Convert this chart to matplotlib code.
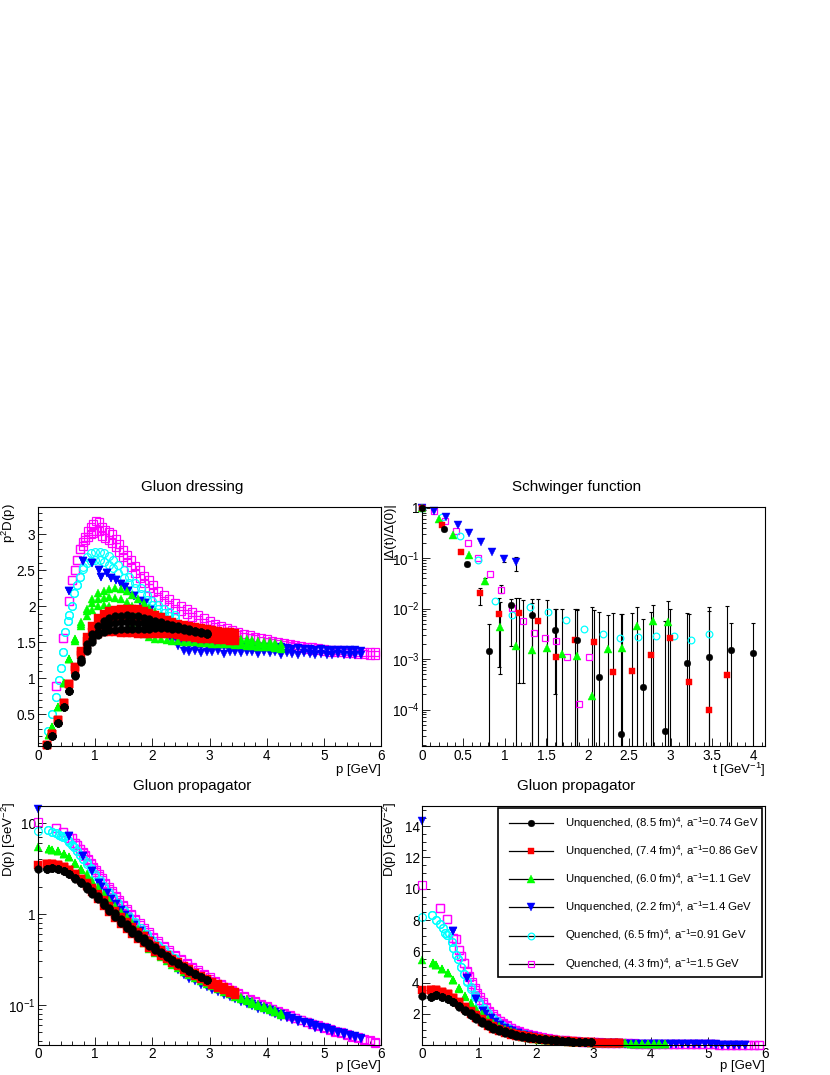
import numpy as np
import matplotlib
matplotlib.use('Agg')
import matplotlib.pyplot as plt
from matplotlib.ticker import MultipleLocator, FixedLocator, FixedFormatter, FuncFormatter, LogLocator, NullFormatter
from matplotlib.patches import Rectangle

plt.rcParams['font.family'] = ['Liberation Sans', 'DejaVu Sans']
plt.rcParams['mathtext.fontset'] = 'custom'
plt.rcParams['mathtext.rm'] = 'Liberation Sans'
plt.rcParams['mathtext.it'] = 'Liberation Sans:italic'
plt.rcParams['mathtext.bf'] = 'Liberation Sans:bold'

# ---- gluon dressing p^2 D(p): upper / middle / lower edge of each lattice band ----
blk_p = [0.15, 0.25, 0.35, 0.45, 0.55, 0.65, 0.75, 0.85, 0.95, 1.05, 1.15, 1.25, 1.35, 1.45, 1.55,
         1.65, 1.75, 1.85, 1.95, 2.05, 2.15, 2.25, 2.35, 2.45, 2.55, 2.65, 2.75, 2.85, 2.95]
blk_hi = [0.07, 0.20, 0.38, 0.60, 0.83, 1.05, 1.27, 1.47, 1.62, 1.73, 1.80, 1.84, 1.86, 1.87, 1.88,
          1.87, 1.86, 1.84, 1.82, 1.80, 1.78, 1.76, 1.74, 1.72, 1.70, 1.68, 1.66, 1.65, 1.63]
blk_mid = [0.07, 0.20, 0.38, 0.60, 0.83, 1.05, 1.24, 1.42, 1.55, 1.65, 1.72, 1.76, 1.77, 1.78, 1.78,
           1.78, 1.77, 1.77, 1.76, 1.75, 1.74, 1.73, 1.72, 1.71, 1.69, 1.67, 1.66, 1.64, 1.62]
blk_lo = [0.07, 0.20, 0.38, 0.60, 0.83, 1.03, 1.22, 1.38, 1.50, 1.60, 1.65, 1.67, 1.67, 1.68, 1.68,
          1.68, 1.68, 1.69, 1.69, 1.70, 1.70, 1.70, 1.69, 1.68, 1.67, 1.66, 1.65, 1.63, 1.61]

red_p = [0.15, 0.25, 0.35, 0.45, 0.55, 0.65, 0.75, 0.85, 0.95, 1.05, 1.15, 1.25, 1.35, 1.45, 1.55,
         1.65, 1.75, 1.85, 1.95, 2.05, 2.15, 2.25, 2.35, 2.45, 2.55, 2.65, 2.75, 2.85, 2.95, 3.05,
         3.15, 3.25, 3.35, 3.45]
red_hi = [0.08, 0.22, 0.42, 0.66, 0.92, 1.16, 1.38, 1.58, 1.73, 1.84, 1.90, 1.93, 1.95, 1.96, 1.96,
          1.96, 1.96, 1.94, 1.91, 1.88, 1.85, 1.81, 1.78, 1.76, 1.74, 1.72, 1.71, 1.70, 1.68, 1.67,
          1.66, 1.65, 1.64, 1.63]
red_mid = [0.08, 0.22, 0.42, 0.66, 0.92, 1.16, 1.36, 1.52, 1.64, 1.73, 1.78, 1.80, 1.81, 1.82, 1.82,
           1.82, 1.81, 1.80, 1.78, 1.76, 1.74, 1.72, 1.70, 1.68, 1.66, 1.65, 1.64, 1.62, 1.61, 1.60,
           1.59, 1.58, 1.57, 1.57]
red_lo = [0.08, 0.22, 0.42, 0.66, 0.92, 1.12, 1.32, 1.46, 1.56, 1.62, 1.64, 1.64, 1.64, 1.63, 1.63,
          1.63, 1.62, 1.62, 1.62, 1.62, 1.61, 1.61, 1.61, 1.60, 1.58, 1.57, 1.56, 1.55, 1.55, 1.54,
          1.53, 1.53, 1.52, 1.52]

grn_p = [0.20, 0.25, 0.35, 0.45, 0.55, 0.65, 0.75, 0.85, 0.95, 1.05, 1.15, 1.25, 1.35, 1.45, 1.55,
         1.65, 1.75, 1.85, 1.95, 2.05, 2.15, 2.25, 2.35, 2.45, 2.55, 2.65, 2.75, 2.85, 2.95, 3.05,
         3.15, 3.25, 3.35, 3.45, 3.55, 3.65, 3.75, 3.85, 3.95, 4.05, 4.15, 4.25]
grn_hi = [0.21, 0.32, 0.60, 0.93, 1.27, 1.55, 1.78, 1.97, 2.10, 2.18, 2.22, 2.24, 2.25, 2.24, 2.21,
          2.16, 2.10, 2.04, 1.98, 1.92, 1.86, 1.81, 1.76, 1.72, 1.68, 1.66, 1.64, 1.62, 1.61, 1.60,
          1.59, 1.58, 1.57, 1.56, 1.55, 1.54, 1.53, 1.52, 1.51, 1.50, 1.49, 1.48]
grn_mid = [0.21, 0.32, 0.60, 0.93, 1.27, 1.55, 1.76, 1.93, 2.04, 2.10, 2.12, 2.13, 2.12, 2.10, 2.06,
           2.00, 1.93, 1.86, 1.80, 1.74, 1.70, 1.66, 1.63, 1.61, 1.59, 1.58, 1.57, 1.56, 1.55, 1.54,
           1.53, 1.52, 1.51, 1.51, 1.50, 1.49, 1.48, 1.47, 1.47, 1.46, 1.45, 1.44]
grn_lo = [0.21, 0.32, 0.60, 0.93, 1.27, 1.52, 1.72, 1.86, 1.95, 2.00, 2.02, 2.00, 1.95, 1.90, 1.82,
          1.75, 1.68, 1.62, 1.58, 1.55, 1.54, 1.53, 1.52, 1.52, 1.51, 1.50, 1.50, 1.49, 1.49, 1.48,
          1.48, 1.47, 1.47, 1.46, 1.46, 1.45, 1.45, 1.44, 1.43, 1.43, 1.42, 1.41]

blu_p = [0.55, 0.78, 0.94, 1.07, 1.10, 1.20, 1.28, 1.36, 1.45, 1.52, 1.58, 1.68, 1.78, 1.88, 1.96,
         2.05, 2.15, 2.25, 2.35, 2.45, 2.55, 2.65, 2.75, 2.85, 2.95, 3.05, 3.15, 3.25, 3.35, 3.45,
         3.55, 3.65, 3.75, 3.85, 3.95, 4.05, 4.15, 4.25, 4.35, 4.45, 4.55, 4.65, 4.75, 4.85, 4.95,
         5.05, 5.15, 5.25, 5.35, 5.45, 5.55, 5.65]
blu_hi = [2.21, 2.63, 2.60, 2.50, 2.41, 2.47, 2.40, 2.36, 2.31, 2.27, 2.21, 2.14, 2.08, 2.04, 1.95,
          1.80, 1.68, 1.60, 1.54, 1.50, 1.46, 1.45, 1.45, 1.44, 1.45, 1.44, 1.43, 1.44, 1.44, 1.43,
          1.43, 1.44, 1.43, 1.42, 1.43, 1.42, 1.42, 1.43, 1.42, 1.41, 1.42, 1.41, 1.41, 1.40, 1.41,
          1.40, 1.40, 1.39, 1.40, 1.39, 1.39, 1.38]
blu_lo = [2.21, 2.63, 2.60, 2.50, 2.41, 2.47, 2.40, 2.36, 2.31, 2.27, 2.21, 2.14, 2.08, 2.04, 1.95,
          1.80, 1.68, 1.60, 1.52, 1.45, 1.38, 1.36, 1.38, 1.35, 1.37, 1.36, 1.38, 1.34, 1.37, 1.36,
          1.35, 1.37, 1.36, 1.34, 1.36, 1.35, 1.36, 1.33, 1.35, 1.34, 1.33, 1.35, 1.34, 1.32, 1.34,
          1.33, 1.32, 1.34, 1.32, 1.33, 1.32, 1.33]

cyn_p = [0.18, 0.25, 0.31, 0.36, 0.40, 0.44, 0.48, 0.52, 0.55, 0.59, 0.63, 0.68, 0.73, 0.79, 0.85,
         0.92, 1.00, 1.08, 1.16, 1.24, 1.32, 1.40, 1.50, 1.60, 1.70, 1.80, 1.90, 2.00, 2.10, 2.20,
         2.30, 2.40]
cyn_hi = [0.27, 0.50, 0.745, 0.97, 1.15, 1.36, 1.65, 1.79, 1.88, 2.00, 2.18, 2.30, 2.41, 2.55, 2.69,
          2.74, 2.76, 2.76, 2.74, 2.70, 2.65, 2.58, 2.50, 2.41, 2.33, 2.25, 2.16, 2.08, 2.02, 1.97,
          1.92, 1.88]
cyn_lo = [0.27, 0.50, 0.745, 0.97, 1.15, 1.36, 1.65, 1.79, 1.88, 2.00, 2.18, 2.30, 2.41, 2.52, 2.60,
          2.63, 2.64, 2.64, 2.62, 2.58, 2.53, 2.47, 2.40, 2.32, 2.25, 2.17, 2.09, 2.02, 1.96, 1.91,
          1.87, 1.84]

mag_p = [0.32, 0.44, 0.55, 0.59, 0.64, 0.68, 0.73, 0.78, 0.82, 0.87, 0.92, 0.97, 1.02, 1.07,
         1.12, 1.18, 1.24, 1.30, 1.36, 1.42, 1.48, 1.55, 1.62, 1.70, 1.78, 1.86, 1.94, 2.02, 2.10,
         2.20, 2.30, 2.40, 2.50, 2.60, 2.70, 2.80, 2.90, 3.00, 3.10, 3.20, 3.30, 3.40, 3.50, 3.60,
         3.70, 3.80, 3.90, 4.00, 4.10, 4.20, 4.30, 4.40, 4.50, 4.60, 4.70, 4.80, 4.90, 5.00, 5.10,
         5.20, 5.30, 5.40, 5.50, 5.60, 5.70, 5.80, 5.90]
mag_hi = [0.90, 1.56, 2.08, 2.37, 2.50, 2.64, 2.80, 2.90, 2.97, 3.05, 3.10, 3.14, 3.18, 3.17,
          3.10, 3.06, 3.03, 3.00, 2.93, 2.86, 2.78, 2.72, 2.64, 2.56, 2.50, 2.42, 2.36, 2.30, 2.22,
          2.16, 2.10, 2.05, 2.01, 1.96, 1.92, 1.88, 1.84, 1.80, 1.76, 1.73, 1.70, 1.67, 1.64, 1.62,
          1.60, 1.58, 1.56, 1.54, 1.52, 1.51, 1.49, 1.48, 1.46, 1.45, 1.44, 1.43, 1.42, 1.41, 1.40,
          1.39, 1.39, 1.38, 1.38, 1.37, 1.37, 1.36, 1.36]
mag_lo = [0.90, 1.56, 2.08, 2.37, 2.50, 2.64, 2.80, 2.84, 2.92, 2.97, 3.00, 3.02, 3.04, 3.04,
          2.98, 2.95, 2.92, 2.88, 2.82, 2.75, 2.68, 2.61, 2.54, 2.46, 2.39, 2.32, 2.26, 2.20, 2.13,
          2.07, 2.02, 1.97, 1.93, 1.89, 1.85, 1.81, 1.77, 1.74, 1.71, 1.68, 1.65, 1.62, 1.60, 1.58,
          1.56, 1.54, 1.52, 1.51, 1.49, 1.48, 1.46, 1.45, 1.44, 1.42, 1.41, 1.40, 1.39, 1.38, 1.37,
          1.36, 1.36, 1.35, 1.35, 1.34, 1.34, 1.33, 1.33]

# propagator at zero momentum D(0) [GeV^-2]
d0_vals = [3.17, 3.50, 5.42, 14.34, 8.20, 10.26]

# ---- Schwinger function |Delta(t)/Delta(0)|, with error bar ends (0 = bar down to axis) ----
sch_blk_t = [0.00, 0.27, 0.54, 0.81, 1.07, 1.33, 1.61, 1.87, 2.14, 2.40, 2.67, 2.93, 3.20, 3.46, 3.73, 3.99]
sch_blk_v = [1.0, 0.37, 0.077, 1.42e-3, 1.17e-2, 7.4e-3, 3.7e-3, 2.44e-3, 4.5e-4, 3.3e-5, 2.75e-4,
             3.7e-5, 8.5e-4, 1.1e-3, 1.5e-3, 1.3e-3]
sch_blk_up = [1.0, 0.37, 0.077, 5.0e-3, 1.54e-2, 1.32e-2, 9.8e-3, 9.5e-3, 8.5e-3, 7.8e-3, 6.2e-3,
              5.6e-3, 8.3e-3, 1.1e-2, 5.1e-3, 5.1e-3]
sch_blk_dn = [1.0, 0.37, 0.077, 0, 1.8e-3, 0, 2.0e-4, 0, 0, 0, 0, 0, 0, 0, 0, 0]

sch_red_t = [0.00, 0.24, 0.47, 0.70, 0.93, 1.17, 1.40, 1.62, 1.85, 2.07, 2.30, 2.53, 2.76, 2.99, 3.22,
             3.46, 3.68]
sch_red_v = [1.0, 0.45, 0.13, 2.0e-2, 7.7e-3, 8.1e-3, 5.6e-3, 1.12e-3, 2.4e-3, 2.15e-3, 5.6e-4, 5.8e-4,
             1.2e-3, 2.6e-3, 3.6e-4, 1.0e-4, 4.9e-4]
sch_red_up = [1.0, 0.45, 0.13, 2.6e-2, 1.6e-2, 1.6e-2, 1.55e-2, 9.8e-3, 9.8e-3, 9.5e-3, 8.1e-3, 8.3e-3,
              8.5e-3, 1.0e-2, 7.8e-3, 9.0e-3, 1.15e-2]
sch_red_dn = [1.0, 0.45, 0.13, 1.2e-2, 7.1e-4, 3.4e-4, 0, 0, 0, 0, 0, 0, 0, 0, 0, 0, 0]

sch_grn_t = [0.00, 0.20, 0.38, 0.57, 0.76, 0.94, 1.14, 1.33, 1.51, 1.69, 1.87, 2.05, 2.24, 2.42, 2.60,
             2.79, 2.97]
sch_grn_v = [1.0, 0.59, 0.29, 0.116, 3.6e-2, 4.3e-3, 1.8e-3, 1.5e-3, 1.65e-3, 1.27e-3, 1.17e-3, 1.85e-4,
             1.6e-3, 1.65e-3, 4.6e-3, 5.6e-3, 5.5e-3]
sch_grn_up = [1.0, 0.59, 0.29, 0.116, 4.1e-2, 1.35e-2, 1.6e-2, 1.55e-2, 1.45e-2, 9.8e-3, 9.8e-3, 1.1e-2,
              7.4e-3, 7.8e-3, 1.07e-2, 1.17e-2, 1.4e-2]
sch_grn_dn = [1.0, 0.59, 0.29, 0.116, 3.1e-2, 5.0e-4, 0, 0, 0, 0, 0, 0, 0, 0, 0, 0, 0]

sch_blu_t = [0.00, 0.15, 0.29, 0.43, 0.57, 0.71, 0.85, 0.99, 1.13]
sch_blu_v = [1.0, 0.85, 0.66, 0.46, 0.32, 0.21, 0.135, 0.097, 0.083]
sch_blu_up = [1.0, 0.85, 0.66, 0.46, 0.32, 0.21, 0.135, 0.11, 0.105]
sch_blu_dn = [1.0, 0.85, 0.66, 0.46, 0.32, 0.21, 0.135, 0.085, 0.056]

sch_cyn_t = [0.00, 0.24, 0.46, 0.68, 0.88, 1.09, 1.30, 1.52, 1.74, 1.95, 2.18, 2.39, 2.61, 2.83, 3.04,
             3.25, 3.47]
sch_cyn_v = [1.0, 0.64, 0.28, 0.093, 1.4e-2, 7.4e-3, 1.1e-2, 8.5e-3, 5.9e-3, 4.0e-3, 3.2e-3, 2.6e-3,
             2.75e-3, 2.9e-3, 2.9e-3, 2.4e-3, 3.2e-3]

sch_mag_t = [0.00, 0.15, 0.28, 0.41, 0.55, 0.68, 0.82, 0.95, 1.09, 1.22, 1.35, 1.49, 1.62, 1.75, 1.89, 2.02]
sch_mag_v = [1.0, 0.85, 0.55, 0.35, 0.195, 0.099, 0.049, 0.023, 1.05e-2, 5.8e-3, 3.3e-3, 2.6e-3, 2.3e-3,
             1.1e-3, 1.3e-4, 1.1e-3]
sch_mag_up = [1.0, 0.85, 0.55, 0.35, 0.195, 0.099, 0.049, 2.9e-2, 1.05e-2, 1.5e-2, 3.3e-3, 2.6e-3, 2.3e-3,
              1.1e-3, 1.3e-4, 1.1e-3]
sch_mag_dn = [1.0, 0.85, 0.55, 0.35, 0.195, 0.099, 0.049, 2.0e-2, 1.05e-2, 3.4e-4, 3.3e-3, 2.6e-3, 2.3e-3,
              1.1e-3, 1.3e-4, 1.1e-3]

labels = ['Unquenched, (8.5 fm)$^{4}$, a$^{-1}$=0.74 GeV',
          'Unquenched, (7.4 fm)$^{4}$, a$^{-1}$=0.86 GeV',
          'Unquenched, (6.0 fm)$^{4}$, a$^{-1}$=1.1 GeV',
          'Unquenched, (2.2 fm)$^{4}$, a$^{-1}$=1.4 GeV',
          'Quenched, (6.5 fm)$^{4}$, a$^{-1}$=0.91 GeV',
          'Quenched, (4.3 fm)$^{4}$, a$^{-1}$=1.5 GeV']
colors = ['black', '#ff0000', '#00ff00', '#0000ff', '#00ffff', '#ff00ff']
markers = ['o', 's', '^', 'v', 'o', 's']
filled = [True, True, True, True, False, False]

band_p = [blk_p, red_p, grn_p, blu_p, cyn_p, mag_p]
band_rows = [[blk_hi, blk_mid, blk_lo], [red_hi, red_mid, red_lo], [grn_hi, grn_mid, grn_lo],
             [blu_hi, blu_lo], [cyn_hi, cyn_lo], [mag_hi, mag_lo]]
sch = [(sch_blk_t, sch_blk_v, sch_blk_up, sch_blk_dn),
       (sch_red_t, sch_red_v, sch_red_up, sch_red_dn),
       (sch_grn_t, sch_grn_v, sch_grn_up, sch_grn_dn),
       (sch_blu_t, sch_blu_v, sch_blu_up, sch_blu_dn),
       (sch_cyn_t, sch_cyn_v, None, None),
       (sch_mag_t, sch_mag_v, sch_mag_up, sch_mag_dn)]

DRAW_ORDER = [5, 4, 3, 2, 1, 0]
W, H = 830, 1075
TICK_FS = 9.8
LABEL_FS = 9.5


def mstyle(i, ms=5.6):
    st = dict(marker=markers[i], ms=ms, ls='none')
    if markers[i] in ('^', 'v'):
        st['ms'] = ms * 1.08
    if filled[i]:
        st.update(mfc=colors[i], mec=colors[i], mew=0.3)
    else:
        st.update(mfc='none', mec=colors[i], mew=0.9)
    return st


def make_axes(fig, x0, ytop):
    # pixel box of a ROOT frame -> figure axes
    ax = fig.add_axes([x0 / W, 1 - (ytop + 239) / H, 343 / W, 239 / H])
    for s in ax.spines.values():
        s.set_linewidth(0.8)
    ax.tick_params(which='both', direction='in', top=False, right=False, labelsize=TICK_FS, pad=1.8)
    ax.tick_params(which='major', length=6, width=0.6)
    ax.tick_params(which='minor', length=3, width=0.6)
    return ax


def g_fmt(v, pos):
    return '%g' % v


def labels_root(ax, xlab, ylab, xl_y, yl_x):
    ax.text(1.0, xl_y, xlab, transform=ax.transAxes, ha='right', va='baseline', fontsize=LABEL_FS)
    ax.text(yl_x, 1.018, ylab, transform=ax.transAxes, rotation=90, ha='center', va='top',
            fontsize=LABEL_FS)


def draw_bands(ax, propagator):
    for i in DRAW_ORDER:
        p = np.array(band_p[i])
        for z in band_rows[i]:
            y = np.array(z)
            if propagator:
                y = y / p ** 2
            ax.plot(p, y, clip_on=False, **mstyle(i))
        if propagator:
            ax.plot([0.0], [d0_vals[i]], clip_on=False, **mstyle(i))


fig = plt.figure(figsize=(W / 100, H / 100), dpi=100)

# gluon dressing
ax1 = make_axes(fig, 38, 507)
draw_bands(ax1, False)
ax1.set_xlim(0, 6)
ax1.set_ylim(0.06, 3.38)
ax1.xaxis.set_major_locator(MultipleLocator(1))
ax1.xaxis.set_minor_locator(MultipleLocator(0.2))
ax1.yaxis.set_major_locator(MultipleLocator(0.5))
ax1.yaxis.set_minor_locator(MultipleLocator(0.1))
ax1.xaxis.set_major_formatter(FuncFormatter(g_fmt))
ax1.yaxis.set_major_formatter(FuncFormatter(g_fmt))
labels_root(ax1, 'p [GeV]', 'p$^{2}$D(p)', -0.112, -0.084)

# Schwinger function
ax2 = make_axes(fig, 422, 507)
ax2.set_yscale('log')
for i in DRAW_ORDER:
    t, v, up, dn = sch[i]
    if up is None:
        continue
    t = np.array(t); v = np.array(v); up = np.array(up); dn = np.array(dn)
    has = (up > v) | (dn < v)
    dn = np.where(dn <= 0, 1e-8, dn)
    lower = np.clip(v[has] - dn[has], 0, None)
    upper = np.clip(up[has] - v[has], 0, None)
    ax2.errorbar(t[has], v[has], yerr=[lower, upper], fmt='none',
                 ecolor='black', elinewidth=0.8, capsize=1.3, capthick=0.8)
for i in DRAW_ORDER:
    t, v, up, dn = sch[i]
    ax2.plot(t, v, clip_on=False, **mstyle(i, 4.8))
ax2.set_xlim(0, 4.14)
ax2.set_ylim(1.9e-5, 1.03)
ax2.xaxis.set_major_locator(MultipleLocator(0.5))
ax2.xaxis.set_minor_locator(MultipleLocator(0.1))
ax2.xaxis.set_major_formatter(FuncFormatter(g_fmt))
ax2.yaxis.set_major_locator(FixedLocator([1e-4, 1e-3, 1e-2, 1e-1, 1]))
ax2.yaxis.set_major_formatter(FixedFormatter(['$10^{-4}$', '$10^{-3}$', '$10^{-2}$', '$10^{-1}$', '1']))
ax2.yaxis.set_minor_locator(LogLocator(base=10, subs=np.arange(2, 10)))
ax2.yaxis.set_minor_formatter(NullFormatter())
labels_root(ax2, 't [GeV$^{-1}$]', '|\u0394(t)/\u0394(0)|', -0.118, -0.094)

# gluon propagator, log
ax3 = make_axes(fig, 38, 806)
ax3.set_yscale('log')
draw_bands(ax3, True)
ax3.set_xlim(0, 6)
ax3.set_ylim(0.036, 15.5)
ax3.xaxis.set_major_locator(MultipleLocator(1))
ax3.xaxis.set_minor_locator(MultipleLocator(0.2))
ax3.xaxis.set_major_formatter(FuncFormatter(g_fmt))
ax3.yaxis.set_major_locator(FixedLocator([0.1, 1, 10]))
ax3.yaxis.set_major_formatter(FixedFormatter(['$10^{-1}$', '1', '10']))
ax3.yaxis.set_minor_locator(LogLocator(base=10, subs=np.arange(2, 10)))
ax3.yaxis.set_minor_formatter(NullFormatter())
labels_root(ax3, 'p [GeV]', 'D(p) [GeV$^{-2}$]', -0.1, -0.084)

# gluon propagator, linear
ax4 = make_axes(fig, 422, 806)
draw_bands(ax4, True)
ax4.set_xlim(0, 6)
ax4.set_ylim(0.02, 15.28)
ax4.xaxis.set_major_locator(MultipleLocator(1))
ax4.xaxis.set_minor_locator(MultipleLocator(0.2))
ax4.xaxis.set_major_formatter(FuncFormatter(g_fmt))
ax4.yaxis.set_major_locator(MultipleLocator(2))
ax4.yaxis.set_minor_locator(MultipleLocator(0.5))
ax4.yaxis.set_major_formatter(FuncFormatter(g_fmt))
labels_root(ax4, 'p [GeV]', 'D(p) [GeV$^{-2}$]', -0.1, -0.094)

# ROOT style legend box
ax4.add_patch(Rectangle((0.2216, 0.2845), 0.7694, 0.7071, transform=ax4.transAxes,
                        fill=True, fc='white', ec='black', lw=1.2, zorder=5, clip_on=False))
for k in range(6):
    yy = (1045 - (822.7 + 28.2 * k)) / 239
    ax4.plot([0.2536, 0.3819], [yy, yy], color='black', lw=0.9, transform=ax4.transAxes,
             zorder=6, clip_on=False)
    ax4.plot([0.318], [yy], transform=ax4.transAxes, zorder=7, clip_on=False, **mstyle(k, 4.8))
    ax4.text(0.4169, yy, labels[k], transform=ax4.transAxes, ha='left', va='center',
             fontsize=8.2, zorder=7)

# pad titles
fig.text(192 / W, 1 - 487 / H, 'Gluon dressing', ha='center', va='center', fontsize=11)
fig.text(576.5 / W, 1 - 487 / H, 'Schwinger function', ha='center', va='center', fontsize=11)
fig.text(192 / W, 1 - 785.7 / H, 'Gluon propagator', ha='center', va='center', fontsize=11)
fig.text(576.5 / W, 1 - 785.7 / H, 'Gluon propagator', ha='center', va='center', fontsize=11)

fig.savefig('out.png', dpi=100)
